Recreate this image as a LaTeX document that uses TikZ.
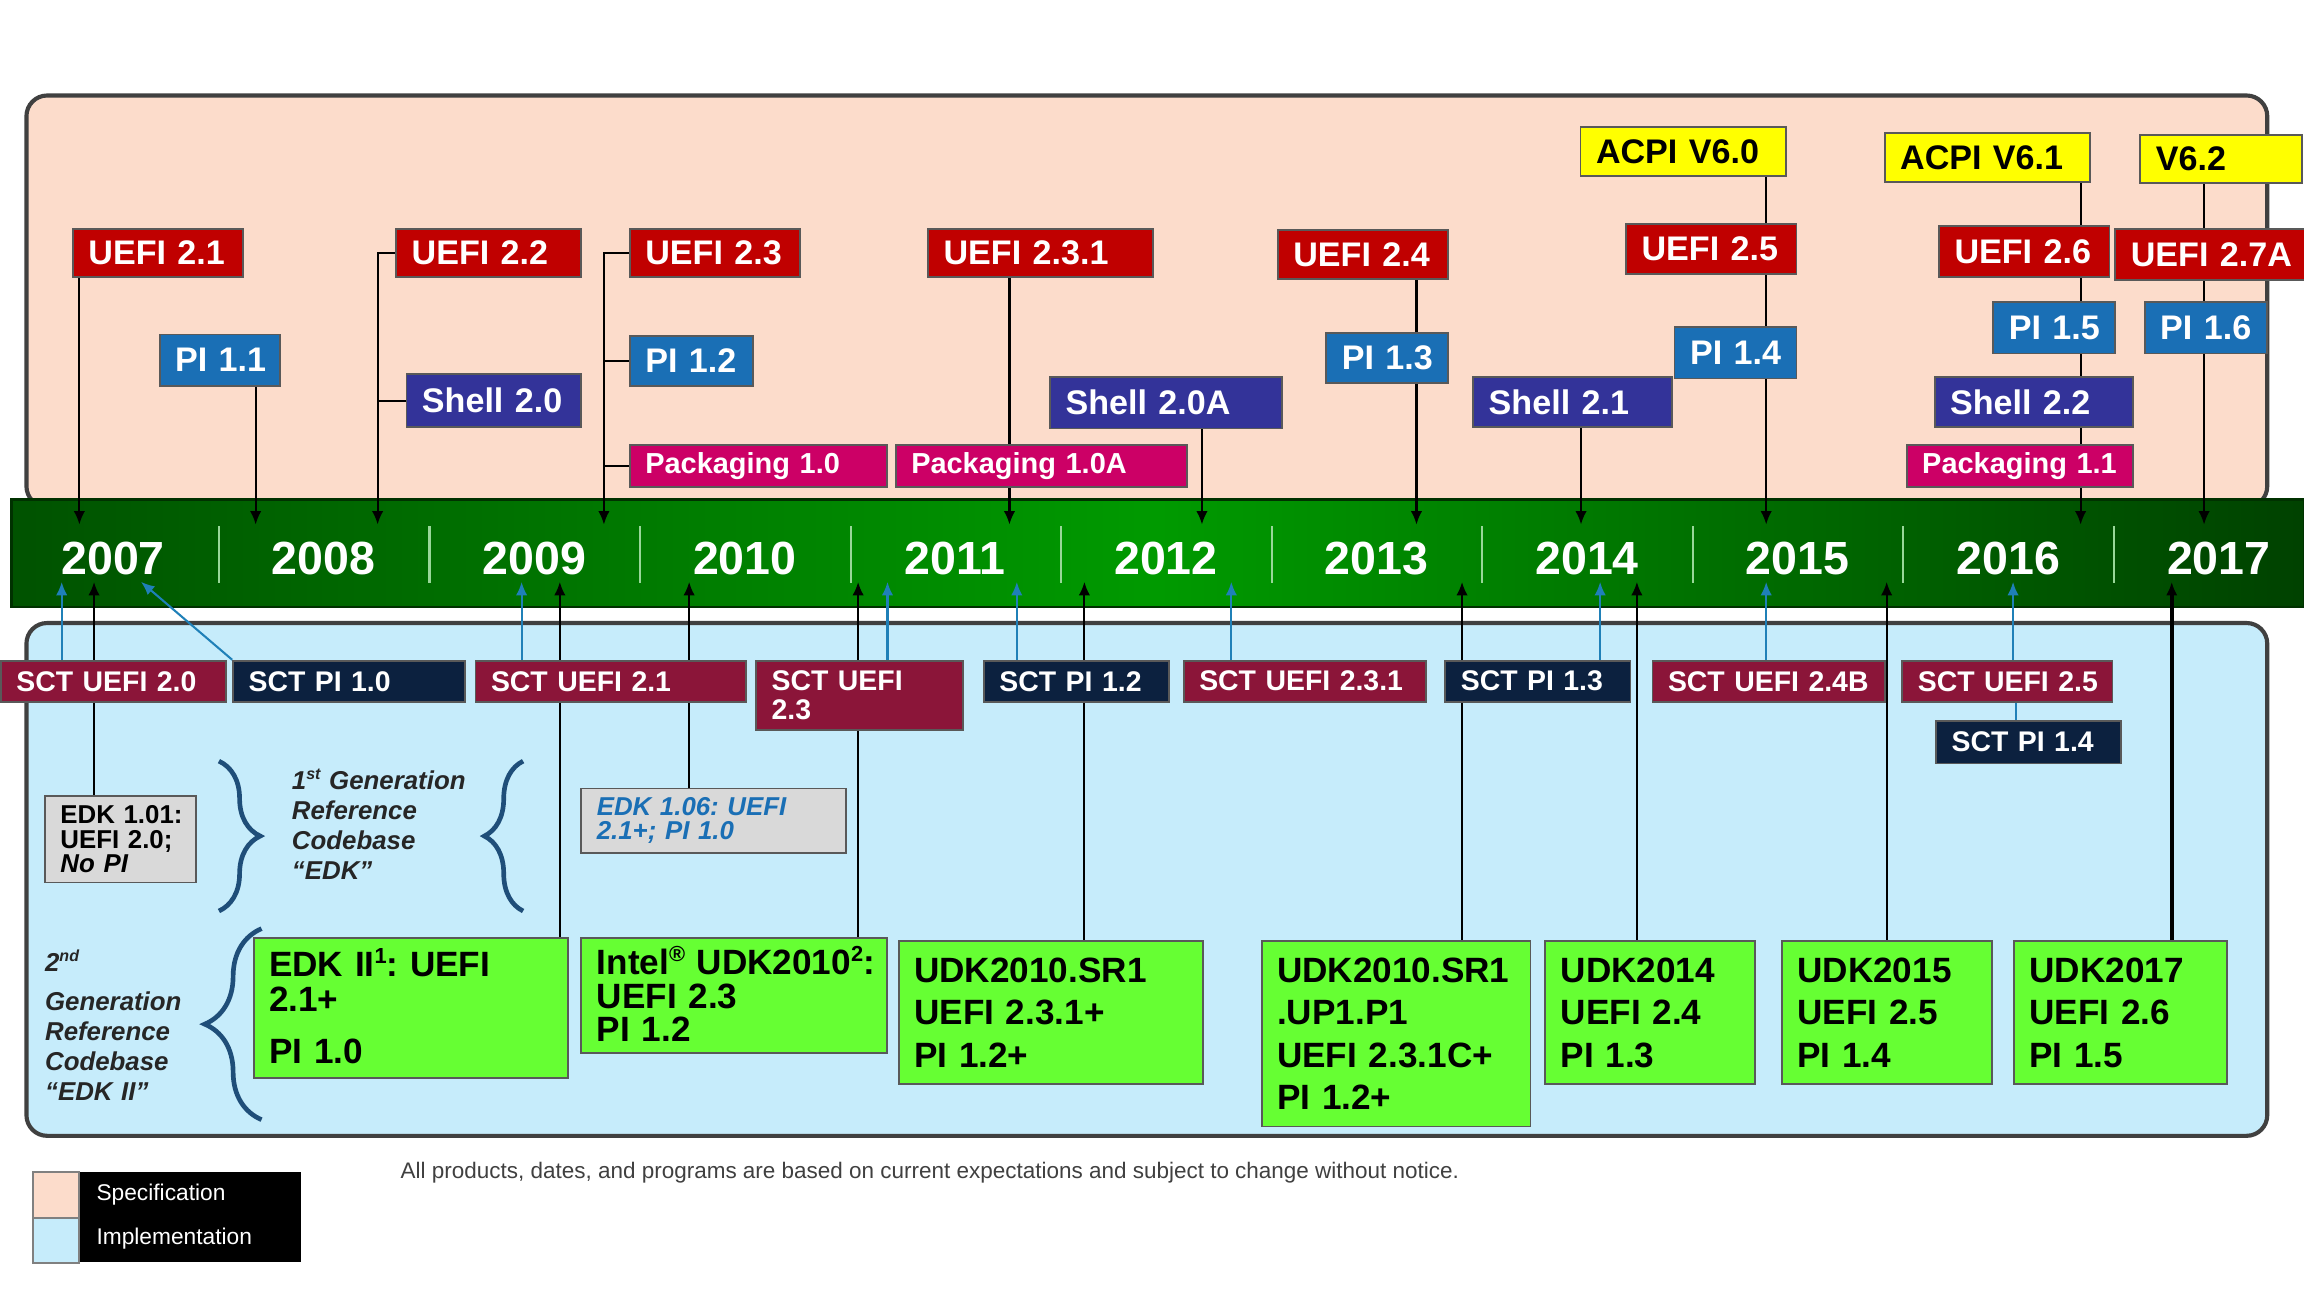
\documentclass[tikz,border=0pt]{standalone}
\usepackage{fontspec}
\setmainfont{Liberation Sans}
\frenchspacing
\usetikzlibrary{arrows.meta, calc, decorations.pathreplacing}
\definecolor{cred}{HTML}{C00000}
\definecolor{cblue}{HTML}{1A6FB5}
\definecolor{cindigo}{HTML}{333399}
\definecolor{cmagenta}{HTML}{CC0066}
\definecolor{cyellow}{HTML}{FFFF00}
\definecolor{cmaroon}{HTML}{8B1539}
\definecolor{cnavy}{HTML}{0C213F}
\definecolor{cteal}{HTML}{1F80B8}
\definecolor{clime}{HTML}{66FF33}
\definecolor{cgreyb}{HTML}{D9D9D9}
\definecolor{cpeach}{HTML}{FCDCCB}
\definecolor{csky}{HTML}{C6ECFB}
\definecolor{cbrace}{HTML}{1F4E79}
\definecolor{cbandlo}{HTML}{005200}
\definecolor{cbandhi}{HTML}{009A00}
\newcommand\upsc[1]{\smash{\raisebox{0.38em}{\scalebox{0.62}{#1}}}}
\pgfdeclarelayer{back}
\pgfdeclarelayer{links}
\pgfsetlayers{back,links,main}
\tikzset{
  every picture/.style={font=\bfseries, line width=0.45pt},
  boxsize/.code 2 args={\pgfmathsetlengthmacro\boxtw{#1*0.01cm-6pt}%
    \pgfkeysalso{/tikz/minimum width=#1*0.01cm, /tikz/minimum height=#2*0.01cm, /tikz/text width/.expanded=\boxtw}},
  box/.style={draw=black!65, line width=0.35pt, fill=#1, text=white, anchor=north west, inner xsep=3pt, inner ysep=0pt, align=left,
    execute at begin node={\frenchspacing\rightskip=-20pt plus 1fil\relax\lineskiplimit=-10pt\relax}},
  spec/.style={box=#1, font=\fontsize{6.6}{7.9}\selectfont\bfseries},
  pack/.style={box=cmagenta, font=\fontsize{5.6}{6.7}\selectfont\bfseries},
  sct/.style={box=#1, font=\fontsize{5.5}{5.6}\selectfont\bfseries},
  impl/.style={box=clime, text=black, font=\fontsize{6.8}{8.2}\selectfont\bfseries},
  edk/.style={box=cgreyb, text=black, font=\fontsize{5}{4.8}\selectfont\bfseries},
  gen/.style={anchor=base west, inner sep=0pt, text width=3cm, align=left, text=black!85, font=\fontsize{5}{5.85}\selectfont\bfseries\itshape,
    execute at begin node={\frenchspacing\lineskiplimit=-10pt\relax}},
  year/.style={text=white, font=\fontsize{9}{10}\selectfont\bfseries},
  arrow/.style={-{Latex[length=2.6pt, width=2.2pt]}, draw=black},
  sctarrow/.style={arrow, draw=cteal},
  curly/.style={decorate, decoration={brace, amplitude=#1}, draw=cbrace, line width=0.9pt},
  swatch/.style={fill=#1, draw=black!50, anchor=north west, minimum width=31*0.01cm, minimum height=31*0.01cm, inner sep=0pt},
  legtext/.style={anchor=west, inner sep=0pt, text=white, font=\fontsize{4.4}{5}\selectfont\mdseries},
}
\begin{document}
\begin{tikzpicture}[x=0.01cm, y=-0.01cm]
  \useasboundingbox (0,0) rectangle (1568,882);
  \begin{pgfonlayer}{back}
    \fill[white] (0,0) rectangle (1568,882);
    \draw[fill=cpeach, draw=black!75, line width=0.8pt, rounded corners=4pt] (18,65) rectangle (1543,345);
    \draw[fill=csky, draw=black!75, line width=0.8pt, rounded corners=4pt] (18,424) rectangle (1543,773);
    \draw[draw=cbandlo!60!black, line width=0.5pt, left color=cbandlo, right color=cbandlo!80!black, middle color=cbandhi] (8,340) rectangle (1568,413);
  \end{pgfonlayer}
  \coordinate (tl) at (0,357);
  \coordinate (bl) at (0,396);
  % year band
  \foreach \yr [count=\i from 0] in {2007,...,2017} {
    \node[year] (y\yr) at ({77+143.3*\i},380) {\yr};
  }
  \foreach \i in {1,...,10} {
    \draw[white!60!cbandhi, line width=0.4pt] ({5.7+143.3*\i},358) -- ({5.7+143.3*\i},397);
  }
  % specifications
  \foreach \n/\x/\y/\w/\h/\c/\t in {u21/49/155/116/33/cred/UEFI 2.1, pi11/108/227/82/35/cblue/PI 1.1,
      u22/269/155/126/33/cred/UEFI 2.2, sh20/276/254/119/36/cindigo/Shell 2.0,
      u23/428/155/116/33/cred/UEFI 2.3, pi12/428/228/84/34/cblue/PI 1.2,
      u231/631/155/153/33/cred/UEFI 2.3.1, sh20a/714/256/158/35/cindigo/Shell 2.0A,
      u24/869/156/116/33/cred/UEFI 2.4, pi13/902/226/83/34/cblue/PI 1.3,
      sh21/1002/256/135/34/cindigo/Shell 2.1, u25/1106/152/116/34/cred/UEFI 2.5,
      pi14/1139/222/83/35/cblue/PI 1.4, u26/1319/153/116/35/cred/UEFI 2.6,
      pi15/1356/205/83/35/cblue/PI 1.5, sh22/1316/256/135/34/cindigo/Shell 2.2,
      u27a/1439/155/130/35/cred/UEFI 2.7A, pi16/1459/205/83/35/cblue/PI 1.6} {
    \node[spec=\c, boxsize={\w}{\h}] (\n) at (\x,\y) {\t};
  }
  \foreach \n/\x/\w/\t in {pk10/428/175/Packaging 1.0, pk10a/609/198/Packaging 1.0A, pk11/1297/154/Packaging 1.1} {
    \node[pack, boxsize={\w}{29}] (\n) at (\x,302) {\t};
  }
  \foreach \n/\x/\y/\w/\t in {acpi60/1075/86/140/ACPI V6.0, acpi61/1282/90/140/ACPI V6.1, v62/1456/91/110/V6.2} {
    \node[spec=cyellow, text=black, boxsize={\w}{33}] (\n) at (\x,\y) {\t};
  }
  % test suites
  \foreach \n/\x/\w/\c/\t in {s20/0/153/cmaroon/SCT UEFI 2.0, sp10/158/158/cnavy/SCT PI 1.0,
      s21/323/184/cmaroon/SCT UEFI 2.1, sp12/669/126/cnavy/SCT PI 1.2,
      s231/805/165/cmaroon/SCT UEFI 2.3.1, sp13/983/126/cnavy/SCT PI 1.3,
      s24b/1124/158/cmaroon/SCT UEFI 2.4B, s25/1294/143/cmaroon/SCT UEFI 2.5} {
    \node[sct=\c, boxsize={\w}{28}] (\n) at (\x,449) {\t};
  }
  \node[sct=cmaroon, boxsize={141}{47}] (s23) at (514,449) {SCT UEFI\\2.3};
  \node[sct=cnavy, boxsize={126}{29}] (sp14) at (1317,490) {SCT PI 1.4};
  % first generation
  \node[edk, boxsize={103}{59}] (edk101) at (30,541) {EDK 1.01:\\UEFI 2.0;\\\textit{No PI}};
  \node[edk, text=cblue, font=\fontsize{5}{4.6}\selectfont\bfseries\itshape, boxsize={180}{44}] (edk106) at (395,536) {EDK 1.06: UEFI\\2.1+; PI 1.0};
  \node[gen] (gen1) at (198,537) {1\upsc{st} Generation\\Reference\\Codebase\\“EDK”};
  \node[gen] (gen2) at (30,661) {2\upsc{nd}\\[1.7pt]Generation\\Reference\\Codebase\\“EDK II”};
  \draw[curly=8pt] (149,518) -- (149,620);
  \draw[curly=7.5pt] (356,620) -- (356,518);
  \draw[curly=11pt] (178,762) -- (178,632);
  % second generation
  \node[impl, font=\fontsize{6.8}{6.8}\selectfont\bfseries, boxsize={214}{95}] (edk2) at (172,638) {EDK II\upsc{1}: UEFI\\2.1+\\[3.2pt]PI 1.0};
  \node[impl, font=\fontsize{6.8}{6.5}\selectfont\bfseries, boxsize={208}{78}] (udk10) at (395,638) {Intel\upsc{®} UDK2010\upsc{2}:\\UEFI 2.3\\PI 1.2};
  \node[impl, boxsize={207}{97}] (sr1) at (611,640) {UDK2010.SR1\\UEFI 2.3.1+\\PI 1.2+};
  \node[impl, boxsize={183}{126}] (up1) at (858,640) {UDK2010.SR1\\.UP1.P1\\UEFI 2.3.1C+\\PI 1.2+};
  \node[impl, boxsize={143}{97}] (udk14) at (1051,640) {UDK2014\\UEFI 2.4\\PI 1.3};
  \node[impl, boxsize={143}{97}] (udk15) at (1212,640) {UDK2015\\UEFI 2.5\\PI 1.4};
  \node[impl, boxsize={145}{97}] (udk17) at (1370,640) {UDK2017\\UEFI 2.6\\PI 1.5};
  \begin{pgfonlayer}{links}
    % specifications down to the year band
    \foreach \n/\x in {u21/54, pi11/174, u231/687, sh20a/818, u24/964, sh21/1076, acpi60/1202, acpi61/1416, v62/1500} {
      \draw[arrow] (\n.south -| \x,0) -- (tl -| \x,0);
    }
    \draw[arrow] (u22.west) -| (tl -| 257,0);
    \draw (sh20.west) -- (sh20.west -| 257,0);
    \draw[arrow] (u23.west) -| (tl -| 411,0);
    \foreach \n in {pi12, pk10} \draw (\n.west) -- (\n.west -| 411,0);
    % implementations up to the year band
    \foreach \n/\x in {edk101/64, edk2/381, edk106/469, udk10/584, sr1/738, up1/995, udk14/1114, udk15/1284} {
      \draw[arrow] (\n.north -| \x,0) -- (bl -| \x,0);
    }
    \draw[arrow, line width=0.8pt] (udk17.north -| 1478,0) -- (bl -| 1478,0);
    % test suites
    \foreach \n/\x in {s20/42, s21/355, s23/604, sp12/692, s231/838, sp13/1089, s24b/1202, s25/1370} {
      \draw[sctarrow] (\n.north -| \x,0) -- (bl -| \x,0);
    }
    \draw[sctarrow] (sp10.north west) -- (bl -| 96,0);
    \draw[draw=cteal] (sp14.north -| 1372,0) -- (s25.south -| 1372,0);
  \end{pgfonlayer}
  % legend and note
  \node[fill=black, anchor=north west, minimum width=182*0.01cm, minimum height=61*0.01cm, inner sep=0pt] (legend) at (22,797) {};
  \node[swatch=cpeach] (kspec) at (22,797) {};
  \node[swatch=csky] (kimpl) at (22,828) {};
  \node[legtext] (lspec) at (65,813) {Specification};
  \node[legtext] (limpl) at (65,843) {Implementation};
  \node[anchor=west, inner sep=0pt, text=black!75, font=\fontsize{4.35}{5}\selectfont\mdseries] (note) at (272,798) {All products, dates, and programs are based on current expectations and subject to change without notice.};
\end{tikzpicture}
\end{document}
